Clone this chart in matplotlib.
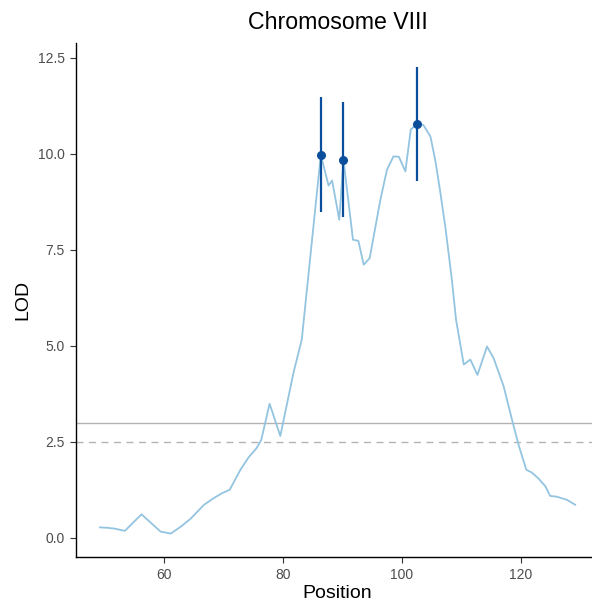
"""
LOD profile along chromosome VIII with QTL peak markers and significance thresholds.
Output: out.png
"""
import matplotlib
matplotlib.use("Agg")
import matplotlib.pyplot as plt
import numpy as np

plt.rcParams.update({
    "font.family": ["Liberation Sans", "DejaVu Sans"],
    "axes.spines.top": False,
    "axes.spines.right": False,
})

# LOD scan (cM, LOD)
position = [49.3, 50.6, 51.7, 53.5, 56.3, 59.5, 61.2, 62.9, 64.5, 66.8,
            68.4, 69.8, 71.1, 72.9, 74.3, 75.6, 76.4, 77.8, 79.6, 81.8,
            83.2, 86.4, 87.7, 88.3, 89.5, 90.2, 91.8, 92.7, 93.6, 94.6,
            96.4, 97.5, 98.6, 99.5, 100.6, 101.5, 102.6, 103.6, 104.8, 105.6,
            106.4, 107.3, 108.4, 109.1, 110.4, 111.5, 112.7, 114.3, 115.4, 117.1,
            118.5, 119.6, 120.9, 121.8, 122.9, 124.1, 124.9, 126.0, 127.7, 129.1]
lod = [0.27, 0.26, 0.24, 0.18, 0.61, 0.16, 0.11, 0.29, 0.49, 0.86,
       1.03, 1.16, 1.25, 1.77, 2.10, 2.33, 2.55, 3.49, 2.65, 4.29,
       5.16, 9.97, 9.17, 9.30, 8.28, 9.84, 7.76, 7.73, 7.11, 7.28,
       8.80, 9.58, 9.93, 9.92, 9.54, 10.63, 10.78, 10.75, 10.45, 9.84,
       9.06, 8.10, 6.72, 5.68, 4.51, 4.64, 4.24, 4.98, 4.68, 3.94,
       3.07, 2.42, 1.77, 1.70, 1.55, 1.34, 1.09, 1.07, 0.99, 0.86]

# QTL peaks with +/- interval
peak_pos = [86.4, 90.2, 102.6]
peak_lod = [9.97, 9.84, 10.78]
peak_lo  = [8.48, 8.36, 9.30]
peak_hi  = [11.47, 11.35, 12.27]

threshold_strict = 3.0
threshold_loose  = 2.5

CURVE_COLOR  = "#93c4e0"
PEAK_COLOR   = "#0b4f9c"
THRESH_COLOR = "#b3b3b3"

fig = plt.figure(figsize=(5.92, 6.06), dpi=100)
ax = fig.add_axes([0.1284, 0.0809, 0.8834, 0.848])

ax.axhline(threshold_strict, color=THRESH_COLOR, lw=1.0, zorder=1)
ax.axhline(threshold_loose, color=THRESH_COLOR, lw=1.0, ls=(0, (5, 4)), zorder=1)

ax.plot(position, lod, color=CURVE_COLOR, lw=1.3, zorder=2)

ax.vlines(peak_pos, peak_lo, peak_hi, color=PEAK_COLOR, lw=1.6, zorder=3)
ax.scatter(peak_pos, peak_lod, color=PEAK_COLOR, s=30, zorder=4)

ax.set_xlim(45.3, 133.1)
ax.set_ylim(-0.5, 12.88)
ax.set_xticks([60, 80, 100, 120])
ax.set_yticks(np.arange(0, 12.6, 2.5))
ax.yaxis.set_major_formatter(matplotlib.ticker.FormatStrFormatter("%.1f"))

ax.tick_params(colors="#333333", labelcolor="#4d4d4d", labelsize=10,
               length=4.5, width=0.8)
for side in ("left", "bottom"):
    ax.spines[side].set_color("black")
    ax.spines[side].set_linewidth(1.0)

ax.set_xlabel("Position", fontsize=14, labelpad=2)
ax.set_ylabel("LOD", fontsize=14, labelpad=5)
ax.set_title("Chromosome VIII", fontsize=16.7, pad=10)

fig.savefig("out.png", dpi=100)
plt.close(fig)
